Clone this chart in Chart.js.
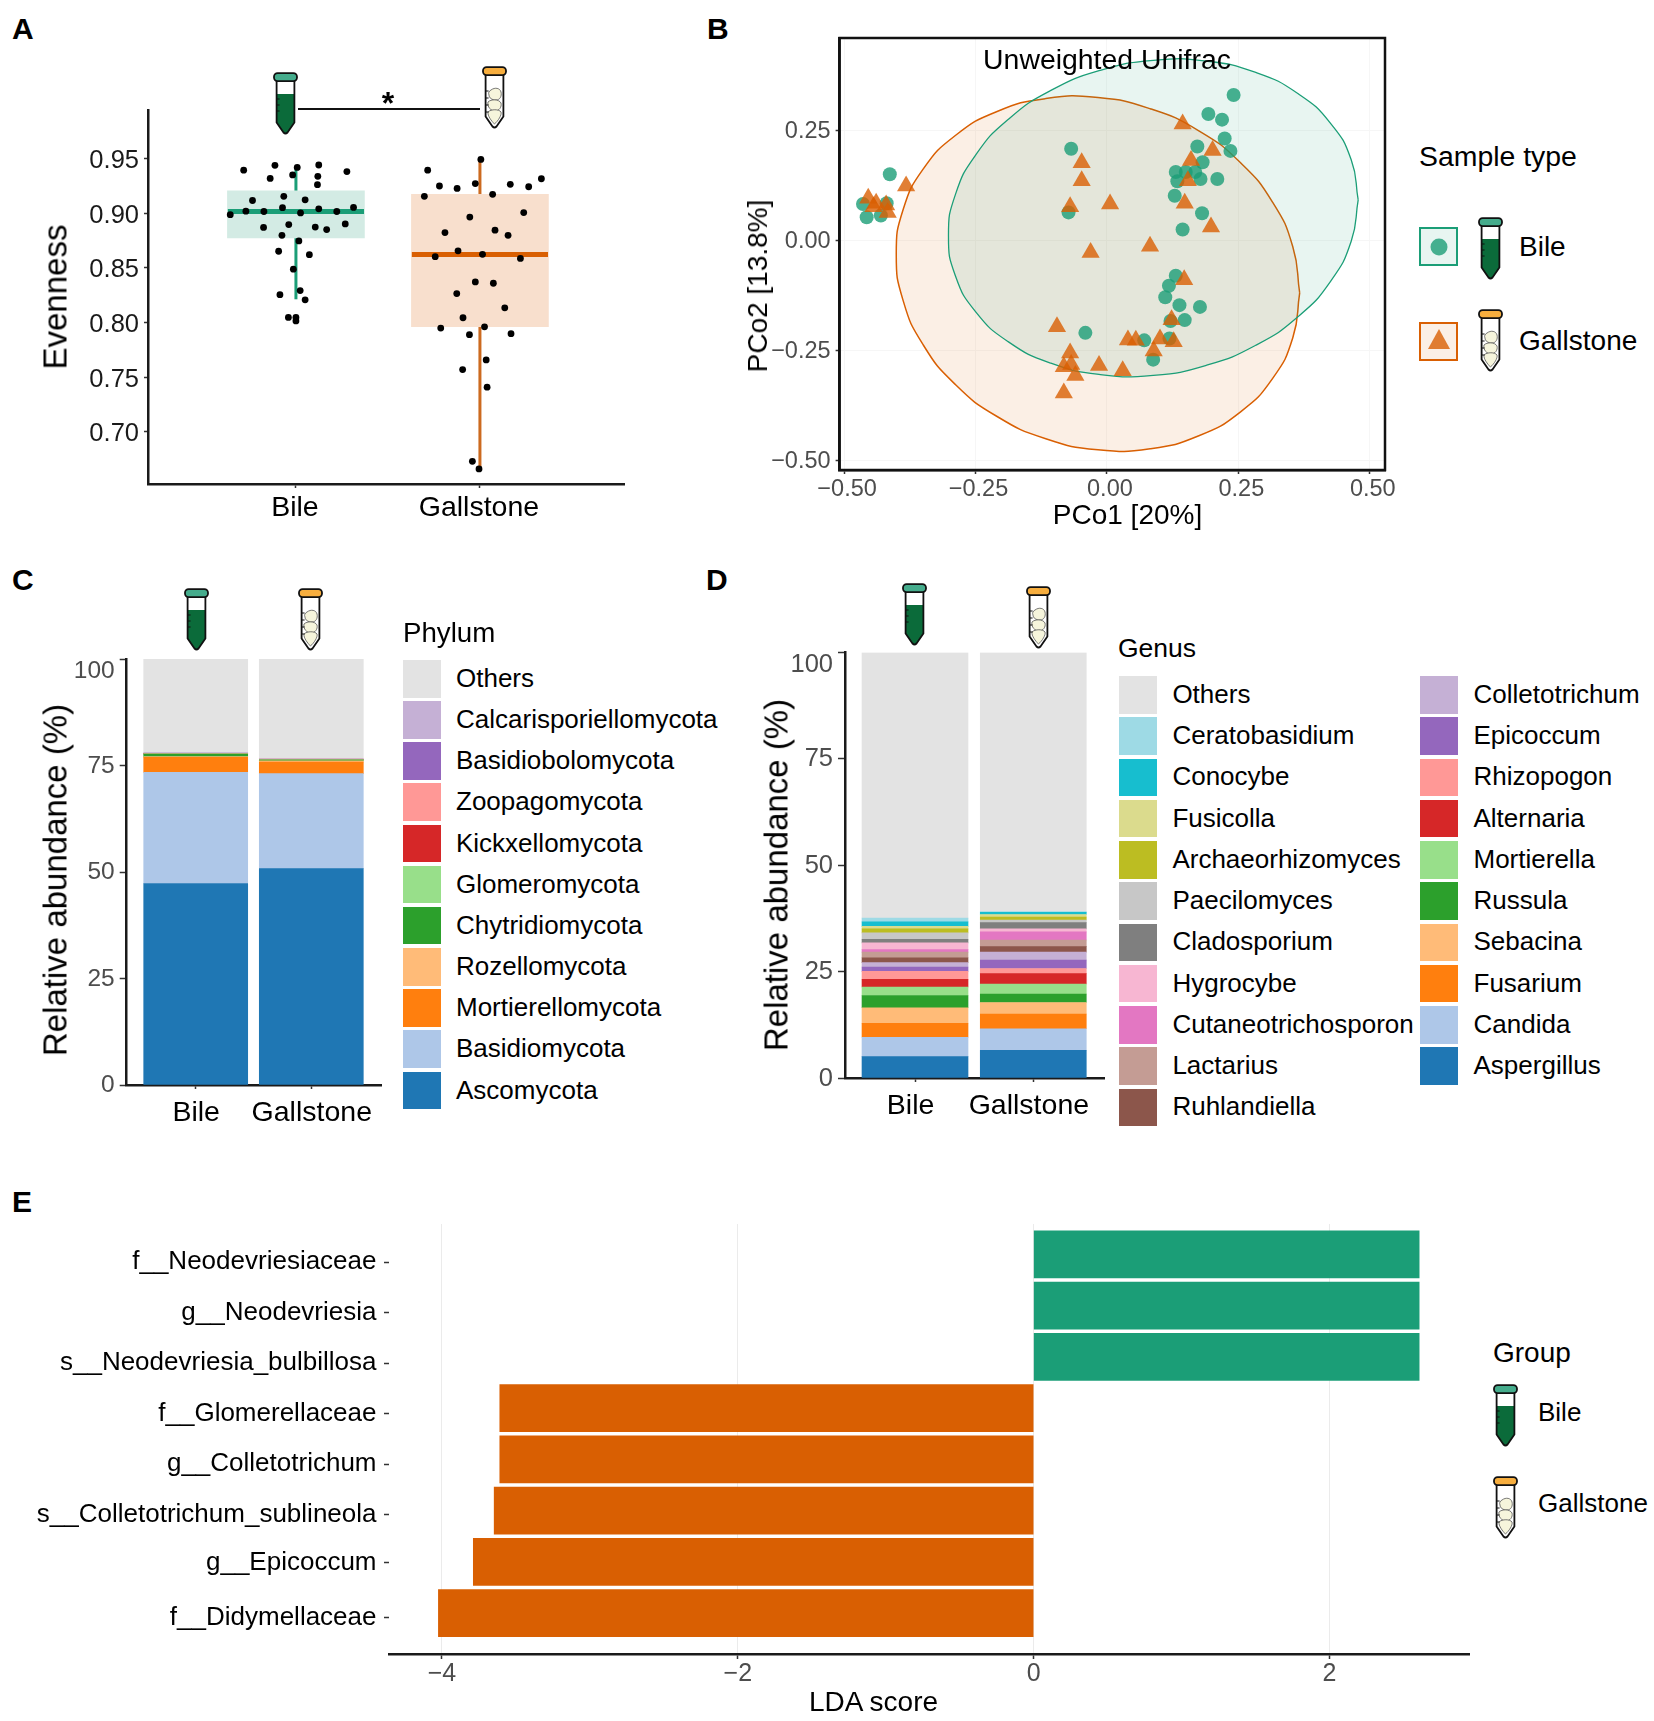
<!DOCTYPE html>
<html><head><meta charset="utf-8">
<script src="https://cdn.jsdelivr.net/npm/chart.js@4"></script>
<style>
html,body{margin:0;padding:0;background:#fff}
#page{position:relative;width:1654px;height:1721px;overflow:hidden;font-family:"Liberation Sans",Arial,sans-serif;color:#000}
#page canvas{position:absolute}
.t{position:absolute;white-space:nowrap;line-height:1}
.s{position:absolute}
svg{position:absolute;overflow:visible}
</style></head><body><div id="page"></div>
<script>
// ---------- Panel A data ----------
const groups = ['Bile','Gallstone'];
const evennessTicks = [0.70,0.75,0.80,0.85,0.90,0.95];
const boxQ1 = [0.8775,0.7962];
const boxQ3 = [0.9206,0.9174];
const boxMedian = [0.9016,0.8623];
const whiskerLow = [0.8212,0.666];
const whiskerHigh = [0.9415,0.9494];
const bileJitter = [0.716,0.886,1.007,1.124,1.277,0.860,0.982,1.119,1.117,0.934,0.764,1.05,0.728,0.826,0.927,1.025,1.124,1.222,1.313,0.643,0.824,0.961,1.105,1.167,1.268,0.924,1.016,0.906,1.073,0.986,1.023,0.913,1.05,0.959,1.0,1.0];
const bileEvenness = [0.9395,0.9439,0.942,0.9442,0.9382,0.9319,0.9351,0.9338,0.9262,0.9155,0.9117,0.9123,0.9019,0.9016,0.9051,0.9003,0.9041,0.9016,0.9054,0.8987,0.887,0.8896,0.8874,0.8851,0.8902,0.8798,0.8747,0.8652,0.8621,0.8488,0.8292,0.8254,0.8207,0.8046,0.8046,0.8014];
const stoneJitter = [2.005,1.716,2.334,1.780,1.876,1.975,2.165,2.265,1.698,2.069,2.238,1.945,1.810,2.082,2.153,1.881,2.014,1.757,2.22,1.975,2.073,1.874,2.135,1.908,1.787,2.025,1.943,2.169,2.034,1.906,2.039,1.959,1.995];
const stoneEvenness = [0.9493,0.9395,0.9316,0.925,0.9228,0.9272,0.9265,0.9243,0.9155,0.9174,0.9006,0.8965,0.8823,0.8845,0.8798,0.8656,0.8624,0.8602,0.8586,0.8371,0.8359,0.8264,0.8134,0.8043,0.7948,0.796,0.7888,0.7897,0.7657,0.7568,0.7407,0.6728,0.6658];
// ---------- Panel B data ----------
const pcoTicksX = [-0.5,-0.25,0,0.25,0.5];
const pcoTicksY = [-0.5,-0.25,0,0.25];
const bilePco1 = [0.241,0.193,0.219,0.224,0.235,0.172,-0.068,0.182,0.131,0.150,0.168,0.134,0.178,0.210,0.129,0.181,0.144,-0.073,-0.413,-0.464,-0.419,-0.457,-0.43,0.131,0.118,0.111,0.138,0.177,0.121,0.148,-0.041,0.071,0.119,0.088];
const bilePco2 = [0.331,0.288,0.275,0.232,0.204,0.214,0.209,0.178,0.156,0.156,0.156,0.135,0.140,0.140,0.102,0.062,0.025,0.064,0.151,0.083,0.085,0.053,0.057,-0.080,-0.103,-0.129,-0.147,-0.151,-0.183,-0.181,-0.210,-0.227,-0.223,-0.271];
const stonePco1 = [0.144,0.201,0.160,-0.048,-0.048,0.154,-0.382,-0.454,-0.439,-0.42,-0.444,-0.417,-0.070,0.006,0.148,0.198,0.082,-0.031,0.147,0.123,-0.095,0.04,0.055,0.101,0.127,0.089,-0.07,-0.068,-0.082,-0.015,0.03,-0.06,-0.082];
const stonePco2 = [0.265,0.205,0.182,0.177,0.136,0.136,0.124,0.096,0.085,0.081,0.077,0.064,0.077,0.083,0.085,0.031,-0.013,-0.027,-0.089,-0.180,-0.196,-0.226,-0.227,-0.224,-0.23,-0.251,-0.256,-0.282,-0.287,-0.284,-0.296,-0.307,-0.347];
const bileEllipseX = [0.478,0.4647,0.4258,0.3639,0.2832,0.1892,0.0883,-0.0126,-0.1066,-0.1873,-0.2492,-0.2881,-0.3014,-0.2881,-0.2492,-0.1873,-0.1066,-0.0126,0.0883,0.1892,0.2832,0.3639,0.4258,0.4647,0.478];
const bileEllipseY = [0.0925,0.1839,0.2662,0.3339,0.3824,0.4083,0.41,0.3872,0.3416,0.2762,0.1955,0.105,0.0109,-0.0805,-0.1628,-0.2305,-0.279,-0.3049,-0.3066,-0.2838,-0.2382,-0.1728,-0.0921,-0.0016,0.0925];
const stoneEllipseX = [0.3667,0.3536,0.3153,0.2543,0.1749,0.0823,-0.017,-0.1163,-0.2089,-0.2883,-0.3493,-0.3876,-0.4007,-0.3876,-0.3493,-0.2883,-0.2089,-0.1163,-0.017,0.0823,0.1749,0.2543,0.3153,0.3536,0.3667];
const stoneEllipseY = [-0.1192,-0.014,0.087,0.1769,0.2497,0.2999,0.3253,0.323,0.2936,0.239,0.163,0.0707,-0.0314,-0.1366,-0.2376,-0.3275,-0.4003,-0.4509,-0.4759,-0.4736,-0.4442,-0.3896,-0.3136,-0.2213,-0.1192];
// ---------- Panel C data (bottom of stack first) ----------
const abundanceTicks = [0,25,50,75,100];
const phyla = ['Ascomycota','Basidiomycota','Mortierellomycota','Rozellomycota','Chytridiomycota','Glomeromycota','Kickxellomycota','Zoopagomycota','Basidiobolomycota','Calcarisporiellomycota','Others'];
const phylumBile = [47.3,26.1,3.5,0.2,0.5,0.2,0.05,0.03,0.01,0.01,22.1];
const phylumStone = [50.8,22.3,2.7,0.3,0.2,0.1,0.05,0.03,0.01,0.01,23.5];
const phylumColors = ['#1f77b4','#aec7e8','#ff7f0e','#ffbb78','#2ca02c','#98df8a','#d62728','#ff9896','#9467bd','#c5b0d5','#e3e3e3'];
// ---------- Panel D data (bottom of stack first) ----------
const genera = ['Aspergillus','Candida','Fusarium','Sebacina','Russula','Mortierella','Alternaria','Rhizopogon','Epicoccum','Colletotrichum','Ruhlandiella','Lactarius','Cutaneotrichosporon','Hygrocybe','Cladosporium','Paecilomyces','Archaeorhizomyces','Fusicolla','Conocybe','Ceratobasidium','Others'];
const genusBile = [5.04,4.53,3.3,3.65,2.87,2.0,1.81,1.84,1.05,1.04,1.13,1.31,0.6,1.57,0.86,1.49,0.95,0.61,1.05,0.87,62.43];
const genusStone = [6.52,5.05,3.47,2.7,2.0,2.35,2.43,1.22,2.0,1.83,1.3,1.56,1.92,0.69,1.48,0.61,0.7,0.6,0.53,0.17,60.87];
const genusColors = ['#1f77b4','#aec7e8','#ff7f0e','#ffbb78','#2ca02c','#98df8a','#d62728','#ff9896','#9467bd','#c5b0d5','#8c564b','#c49c94','#e377c2','#f7b6d2','#7f7f7f','#c7c7c7','#bcbd22','#dbdb8d','#17becf','#9edae5','#e3e3e3'];
// ---------- Panel E data ----------
const taxa = ['f__Neodevriesiaceae','g__Neodevriesia','s__Neodevriesia_bulbillosa','f__Glomerellaceae','g__Colletotrichum','s__Colletotrichum_sublineola','g__Epicoccum','f__Didymellaceae'];
const taxaTickPositions = [1.152,2.137,3.120,4.107,5.092,6.077,7.02,8.09];
const ldaScore = [2.606,2.606,2.606,-3.609,-3.609,-3.647,-3.788,-4.024];
const ldaTicks = [-4,-2,0,2];

// ---------- helpers ----------
const GREEN='#1b9e77', ORANGE='#d95f02', GREY='#4d4d4d', INK='#1a1a1a';
const FONT='"Liberation Sans", Arial, sans-serif';
const page=document.getElementById('page');
function txt(s,x,y,size,o){o=o||{};
  const d=document.createElement('div');d.className='t';d.textContent=s;
  d.style.left=x+'px';d.style.top=y+'px';d.style.fontSize=size+'px';
  d.style.color=o.color||'#000';if(o.bold)d.style.fontWeight='bold';
  let tf=o.center?'translate(-50%,-50%)':'translateY(-50%)';
  if(o.rot)tf+=' rotate(-90deg)';
  d.style.transform=tf;page.appendChild(d);return d;}
function swatch(x,y,w,h,c){const d=document.createElement('div');d.className='s';
  d.style.cssText+=`left:${x}px;top:${y}px;width:${w}px;height:${h}px;background:${c}`;page.appendChild(d);}
function tube(kind,x,y,w,h){
  const st='fill="#f6f5dc" stroke="#555" stroke-width=".8"';
  const stones=`<path d="M9 24c4-3 9-2 10 2c1 4-1 8-5 8c-4 0-7-2-7-5c-1-2 0-4 2-5z" ${st}/>
  <path d="M6 36c3-3 11-3 13 1c1 4-2 8-6 8c-4 0-8-4-7-9z" ${st}/>
  <path d="M6 46c3-3 11-3 13 0c1 3-3 9-6.5 12c-3-3-7-8-6.5-12z" ${st}/>`;
  const body='M3.6 8V50.500L10.500 60.500Q12.500 62.500 14.500 60.500L21.400 50.500V8';
  const inner= kind==='bile'
   ?`<path d="M3.6 22H21.4V50.500L14.500 60.500Q12.500 62.500 10.500 60.500L3.600 50.500Z" fill="#0b6b3a"/>
     <path d="M3.6 27h3M3.6 33h3M3.6 39h3" stroke="#111" stroke-width="1.2"/>`
   :stones+`<path d="M3.6 25h3M3.6 32h3M3.6 39h3M3.6 46h3" stroke="#111" stroke-width="1.2"/>`;
  const cap=kind==='bile'?'#45ac8c':'#f7ae3e';
  const ns='http://www.w3.org/2000/svg';
  const svg=document.createElementNS(ns,'svg');
  svg.setAttribute('viewBox','0 0 25 63');svg.setAttribute('width',w);svg.setAttribute('height',h);
  svg.style.left=x+'px';svg.style.top=y+'px';
  svg.innerHTML=`<path d="${body}Z" fill="#fff"/>${inner}
   <path d="${body}" fill="none" stroke="#111" stroke-width="1.8" stroke-linejoin="round"/>
   <rect x="1" y="1.2" width="23" height="8" rx="3.6" fill="${cap}" stroke="#111" stroke-width="1.8"/>`;
  page.appendChild(svg);}
function makeChart(box,area,cfg){
  const c=document.createElement('canvas');
  c.width=box.w;c.height=box.h;
  c.style.cssText=`left:${box.l}px;top:${box.t}px;width:${box.w}px;height:${box.h}px`;
  page.appendChild(c);
  const o=cfg.options=cfg.options||{};
  o.responsive=false;o.animation=false;o.devicePixelRatio=1;
  o.layout={autoPadding:false,padding:{left:0,bottom:0,top:area.t-box.t,right:box.l+box.w-area.r}};
  o.plugins=Object.assign({legend:{display:false},tooltip:{enabled:false}},o.plugins||{});
  o.scales.x.afterFit=s=>{s.height=box.t+box.h-area.b};
  o.scales.y.afterFit=s=>{s.width=area.l-box.l};
  return new Chart(c,cfg);}
function fixedTicks(vals){return s=>{s.ticks=vals.map(v=>({value:v}))}}
const minus=v=>String(v).replace('-','\u2212');
function groupAxis(min,max,size,pad,tl,shift){return {type:'linear',min,max,offset:false,
  afterBuildTicks:fixedTicks([1,2]),
  grid:{display:true,offset:false,drawOnChartArea:false,drawTicks:true,tickLength:tl,tickColor:'#333',tickWidth:1.5},
  border:{display:true,color:INK,width:2.5},
  ticks:{autoSkip:false,maxRotation:0,padding:pad,labelOffset:shift,color:'#000',font:{family:FONT,size},callback:v=>groups[v-1]}};}
function valueAxis(vals,min,max,fmt,size,color,pad,tl,shift){return {type:'linear',min,max,
  afterBuildTicks:fixedTicks(vals),
  grid:{display:true,drawOnChartArea:false,drawTicks:true,tickLength:tl,tickColor:'#333',tickWidth:1.5},
  border:{display:true,color:INK,width:2.5},
  ticks:{autoSkip:false,padding:pad,labelOffset:shift||0,color,font:{family:FONT,size},callback:fmt}};}
const pts=(xs,ys)=>xs.map((x,i)=>({x,y:ys[i]}));

// ---------- panel letters ----------
txt('A',12,29,30,{bold:true});txt('B',707,29,30,{bold:true});
txt('C',12,580,30,{bold:true});txt('D',706,580,30,{bold:true});txt('E',12,1202,30,{bold:true});

// ---------- Panel A ----------
makeChart({l:0,t:70,w:660,h:470},{l:148,t:110,r:624,b:484},{
  type:'bar',
  data:{datasets:[
    {type:'bar',data:groups.map((g,i)=>({x:i+1,y:[boxQ1[i],boxQ3[i]]})),backgroundColor:['#d3ebe4','#f8dfcd'],barThickness:137,order:3},
    {type:'line',data:pts([1,1],[whiskerLow[0],whiskerHigh[0]]),borderColor:GREEN,borderWidth:3,pointRadius:0,order:4},
    {type:'line',data:pts([2,2],[whiskerLow[1],whiskerHigh[1]]),borderColor:'#cc6a1f',borderWidth:3,pointRadius:0,order:4},
    {type:'line',data:pts([0.63,1.37],[boxMedian[0],boxMedian[0]]),borderColor:GREEN,borderWidth:5,pointRadius:0,order:2},
    {type:'line',data:pts([1.63,2.37],[boxMedian[1],boxMedian[1]]),borderColor:ORANGE,borderWidth:5,pointRadius:0,order:2},
    {type:'scatter',data:pts(bileJitter,bileEvenness),backgroundColor:'#000',borderWidth:0,pointRadius:3.4,order:1},
    {type:'scatter',data:pts(stoneJitter,stoneEvenness),backgroundColor:'#000',borderWidth:0,pointRadius:3.4,order:1}
  ]},
  options:{scales:{
    x:groupAxis(0.196,2.783,28.5,3,4,-1),
    y:valueAxis(evennessTicks,0.652,0.9946,v=>v.toFixed(2),25.5,INK,5,4,2.5)
  }}
});
txt('Evenness',55,297,33,{center:true,rot:true});
tube('bile',273,72,25,63);tube('stone',482,66,25,63);
swatch(298,107.5,182,2,'#111');
txt('*',388,103,32,{center:true,bold:true});

// ---------- Panel B ----------
const frame={id:'frame',afterDraw(ch){const a=ch.chartArea,c=ch.ctx;c.save();c.strokeStyle='#111';c.lineWidth=2.5;c.strokeRect(a.left,a.top,a.width,a.height);c.restore();}};
function bAxis(vals,min,max,pad,shift){const a=valueAxis(vals,min,max,v=>minus(v.toFixed(2)),23.5,GREY,pad,4,shift);
  a.grid.drawOnChartArea=true;a.grid.color='#f6f6f6';return a;}
makeChart({l:720,t:10,w:680,h:530},{l:839.6,t:38,r:1385,b:470},{
  type:'scatter',
  data:{datasets:[
    {data:pts(bileEllipseX,bileEllipseY),showLine:true,tension:0.5,borderColor:GREEN,borderWidth:1.3,backgroundColor:'rgba(27,158,119,0.1)',fill:'shape',pointRadius:0,order:3},
    {data:pts(stoneEllipseX,stoneEllipseY),showLine:true,tension:0.5,borderColor:ORANGE,borderWidth:1.5,backgroundColor:'rgba(217,95,2,0.1)',fill:'shape',pointRadius:0,order:3},
    {data:pts(bilePco1,bilePco2),backgroundColor:'rgba(27,158,119,0.8)',borderWidth:0,pointRadius:7,pointStyle:'circle',order:2},
    {data:pts(stonePco1,stonePco2),backgroundColor:'rgba(217,95,2,0.8)',borderWidth:0,pointRadius:10.5,pointStyle:'triangle',order:1}
  ]},
  options:{scales:{x:bAxis(pcoTicksX,-0.5085,0.529,1,3),y:bAxis(pcoTicksY,-0.522,0.4608,5,1)}},
  plugins:[frame]
});
txt('Unweighted Unifrac',1107,59,28.4,{center:true});
txt('PCo1 [20%]',1127.5,515,28,{center:true});
txt('PCo2 [13.8%]',758,286,28,{center:true,rot:true});
// sample type legend
txt('Sample type',1419,156,28.4);
function keyBox(y,col,fill){const d=document.createElement('div');d.className='s';
  d.style.cssText+=`left:1419px;top:${y}px;width:35px;height:35px;border:2.5px solid ${col};background:${fill}`;page.appendChild(d);}
keyBox(227,GREEN,'rgba(27,158,119,0.1)');keyBox(322,ORANGE,'rgba(217,95,2,0.1)');
{const ns='http://www.w3.org/2000/svg';const s=document.createElementNS(ns,'svg');
 s.setAttribute('width','60');s.setAttribute('height','160');s.style.left='1419px';s.style.top='220px';
 s.innerHTML='<circle cx="20" cy="27" r="8.5" fill="rgba(27,158,119,0.8)"/><polygon points="20,109 31,129 9,129" fill="rgba(217,95,2,0.8)"/>';page.appendChild(s);}
tube('bile',1478,217,25,63);tube('stone',1478,309,25,63);
txt('Bile',1519,247,28);txt('Gallstone',1519,341,28);

// ---------- Panel C ----------
function stacked(names,a,b,colors,thick){return names.map((n,i)=>({label:n,data:[{x:1,y:a[i]},{x:2,y:b[i]}],backgroundColor:colors[i],borderWidth:0,barThickness:thick,stack:'s'}));}
function stackScales(xmin,xmax,shift,fontSize){const x=groupAxis(xmin,xmax,28.5,7,4,shift);x.stacked=true;
  const y=valueAxis(abundanceTicks,0,100,v=>v===100?['',String(v)]:String(v),fontSize,GREY,5,7,0.5);
  y.ticks.font.lineHeight=0.92;y.stacked=true;return {x,y};}
makeChart({l:0,t:620,w:390,h:520},{l:126.7,t:659,r:381,b:1085},{
  type:'bar',data:{datasets:stacked(phyla,phylumBile,phylumStone,phylumColors,104)},
  options:{scales:stackScales(0.403,2.603,0.5,24.5)}
});
txt('Relative abundance (%)',55,879.6,33,{center:true,rot:true});
tube('bile',183.5,588,25,63);tube('stone',298,588,25,63);
txt('Phylum',403,633,27.7);
[...phyla].reverse().forEach((n,i)=>{const y=660+i*41.15;swatch(403,y,38,37.5,phylumColors[phyla.length-1-i]);txt(n,456,y+18,26);});

// ---------- Panel D ----------
makeChart({l:740,t:610,w:370,h:530},{l:845,t:652.5,r:1104,b:1078},{
  type:'bar',data:{datasets:stacked(genera,genusBile,genusStone,genusColors,106)},
  options:{scales:stackScales(0.408,2.598,-4.4,25.5)}
});
txt('Relative abundance (%)',776,874.5,33,{center:true,rot:true});
tube('bile',902,583,25,63);tube('stone',1025.5,586,25,63);
txt('Genus',1118,648,26.5);
[...genera].reverse().forEach((n,i)=>{
  const col=i<11?0:1,row=col?i-11:i,y=676+row*41.25,c=genusColors[genera.length-1-i];
  swatch(col?1420:1119,y,37.5,37.5,c);txt(n,col?1473.5:1172.4,y+17.8,26);});

// ---------- Panel E ----------
const xE=valueAxis(ldaTicks,-4.358,2.943,v=>minus(v),25,GREY,0,5);
xE.grid.drawOnChartArea=true;xE.grid.color='#ebebeb';xE.grid.lineWidth=1;
makeChart({l:0,t:1190,w:1480,h:531},{l:389,t:1224,r:1469,b:1654},{
  type:'bar',
  data:{datasets:[{data:taxa.map((t,i)=>({x:ldaScore[i],y:i+1})),
    backgroundColor:ldaScore.map(v=>v>0?GREEN:ORANGE),borderWidth:0,barThickness:47}]},
  options:{indexAxis:'y',scales:{
    x:xE,
    y:{type:'linear',reverse:true,min:0.407,max:8.796,offset:false,afterBuildTicks:fixedTicks(taxaTickPositions),
       grid:{display:true,offset:false,drawOnChartArea:false,drawTicks:true,tickLength:5,tickColor:'#333',tickWidth:1.5},
       border:{display:false},
       ticks:{autoSkip:false,padding:7.5,color:'#000',font:{family:FONT,size:26},callback:(v,i)=>taxa[i]}}
  }}
});
txt('LDA score',873.5,1702,28,{center:true});
txt('Group',1493,1352.5,28);
tube('bile',1493,1384,25,63);tube('stone',1493,1476,25,63);
txt('Bile',1538,1412,26);txt('Gallstone',1538,1502.6,26);
</script></body></html>
